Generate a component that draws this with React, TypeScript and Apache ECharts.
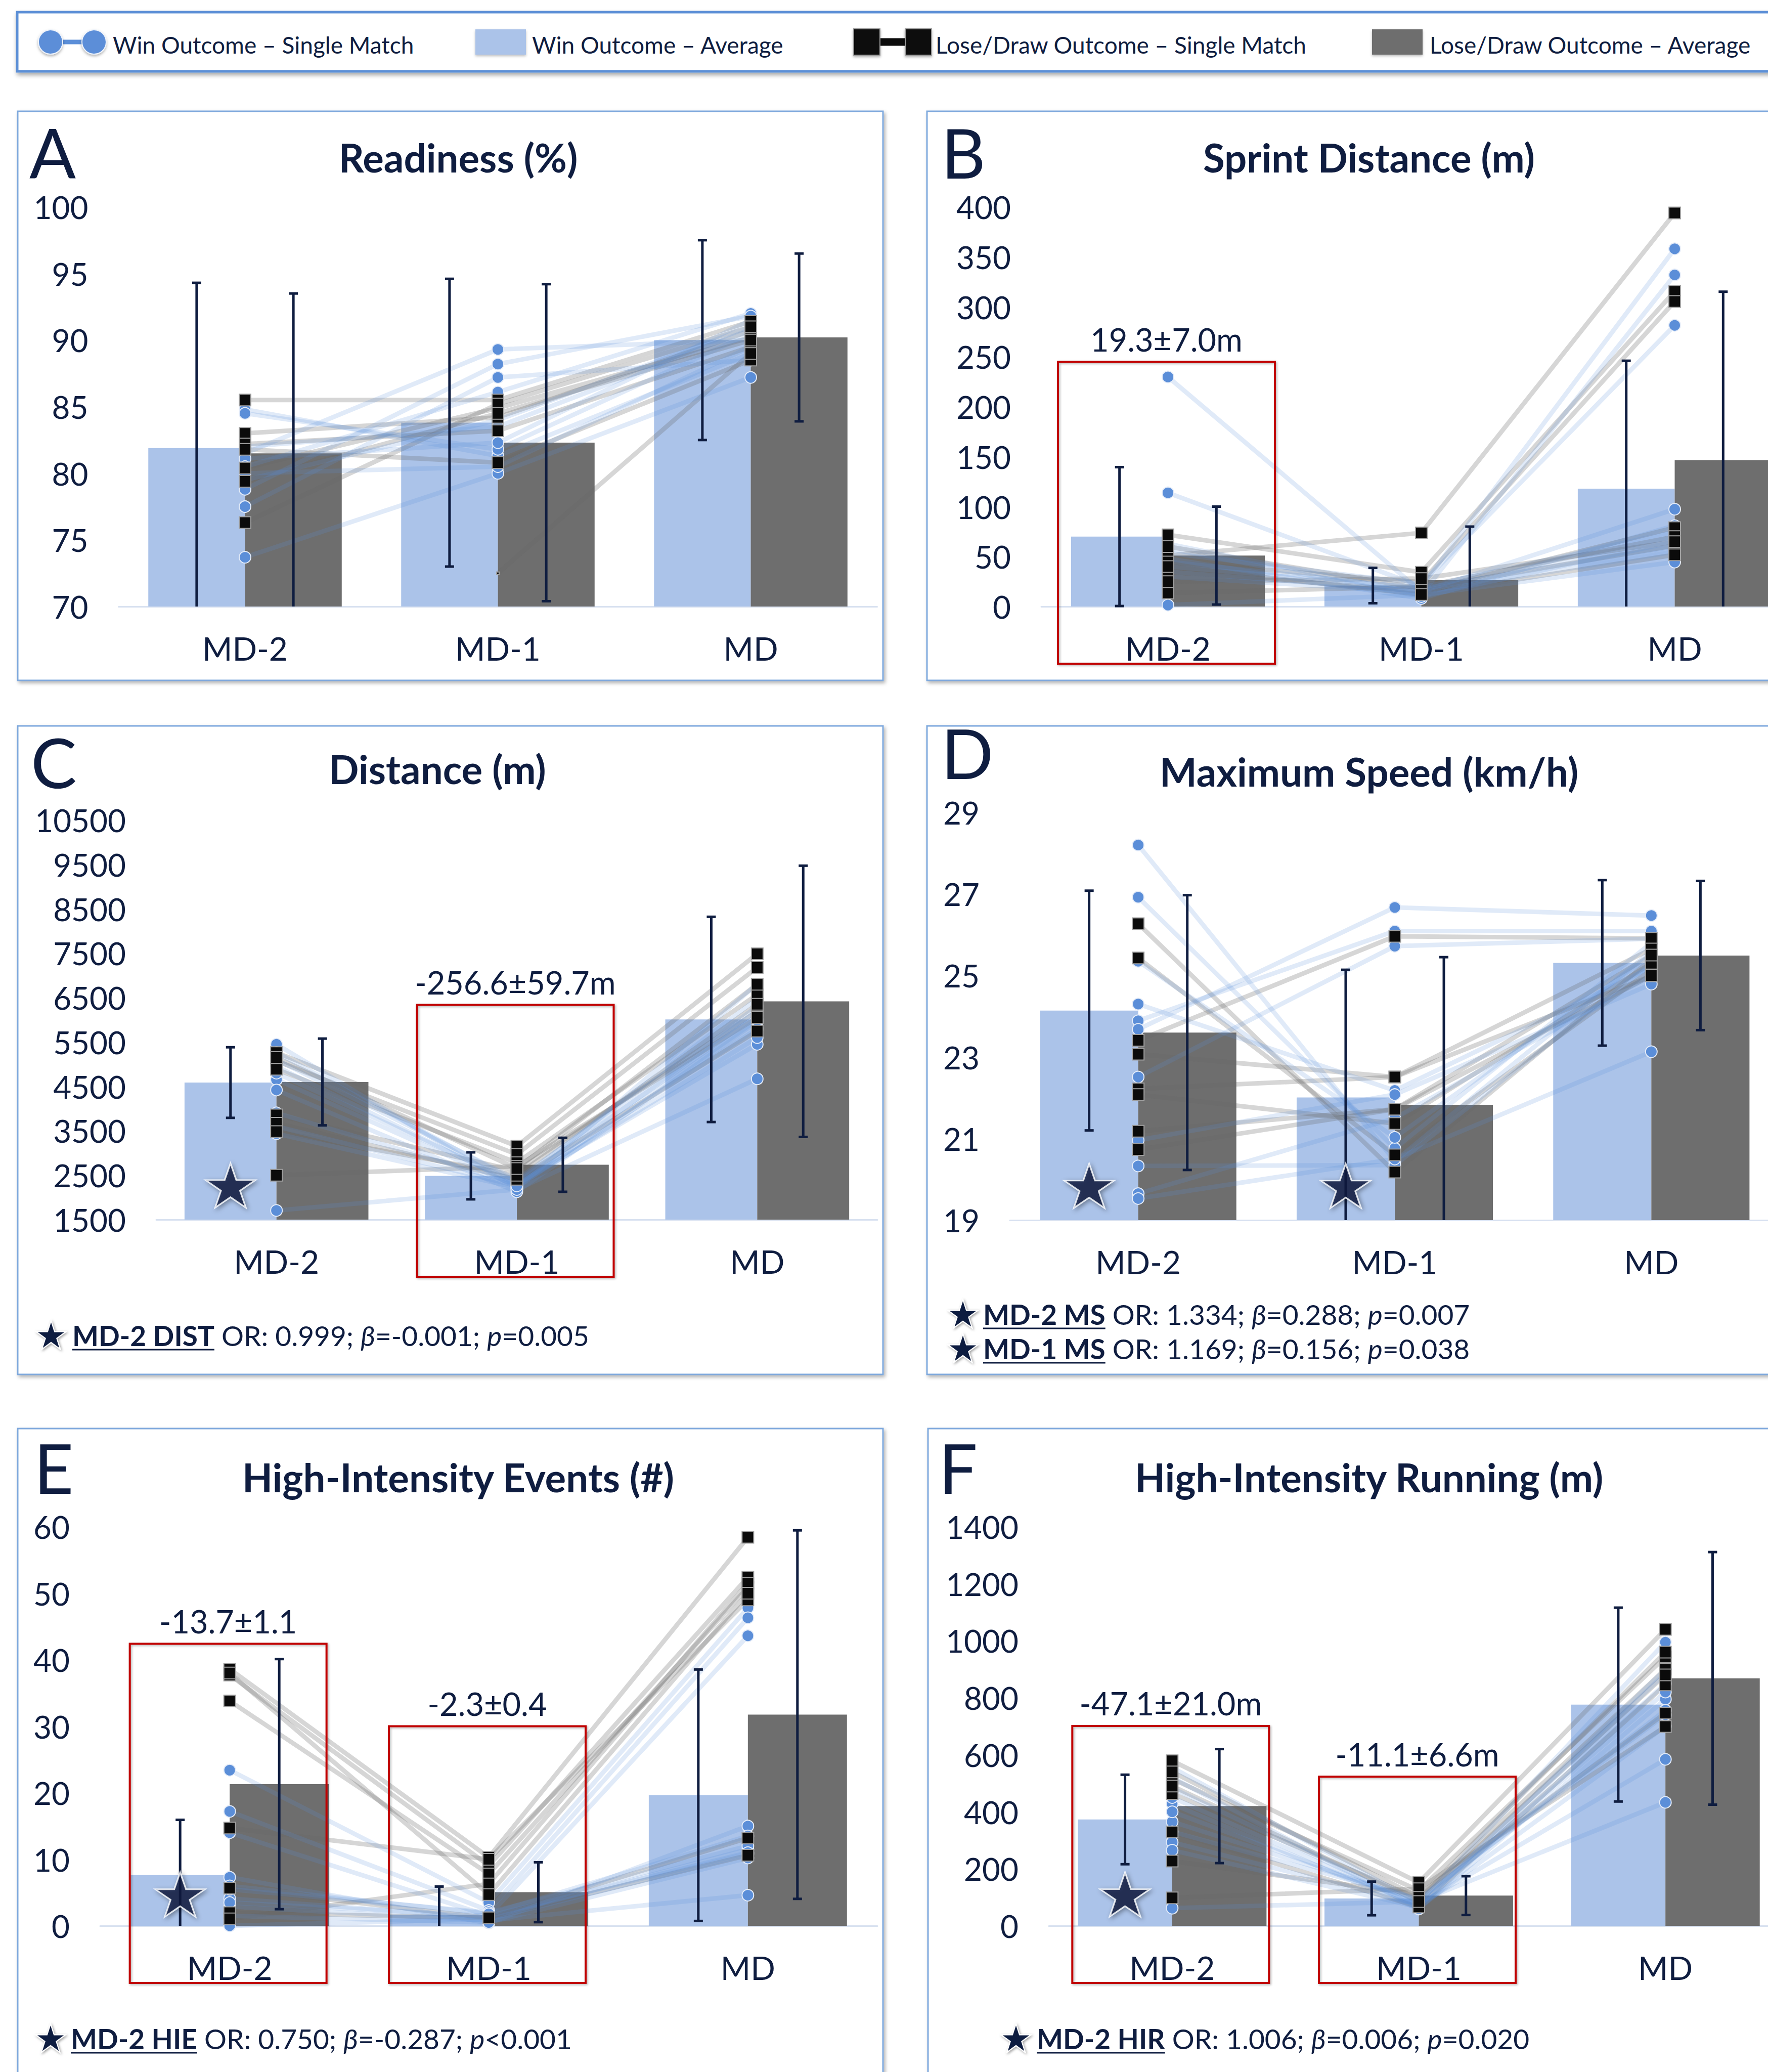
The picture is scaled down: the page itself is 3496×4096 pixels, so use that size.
import React, { useEffect, useRef } from 'react';
import * as echarts from 'echarts';

const W = 3496;
const H = 4096;
const NAVY = '#0f1d40';
const FONT = 'Lato, "Open Sans", sans-serif';
const WIN_BAR = '#abc3e9';
const LOSE_BAR = '#6e6e6e';
const WIN_PT = '#5b8ed8';
const LOSE_PT = '#0b0b0b';
const WIN_LINE = 'rgba(91,142,216,0.19)';
const LOSE_LINE = 'rgba(105,105,105,0.27)';
const RED = '#c00000';
const GAP = 0.235;

// ---------------- DATA ----------------
const categories = ['MD-2', 'MD-1', 'MD'];
const legendLabels = [
  'Win Outcome – Single Match',
  'Win Outcome – Average',
  'Lose/Draw Outcome – Single Match',
  'Lose/Draw Outcome – Average',
];

// A. Readiness (%)
const readinessTicks = [70, 75, 80, 85, 90, 95, 100];
const readinessWinAvg = [81.9, 83.8, 90.0];
const readinessWinSD = [12.4, 10.8, 7.5];
const readinessLoseAvg = [81.5, 82.3, 90.2];
const readinessLoseSD = [12.0, 11.9, 6.3];
const readinessWin = [
  [84.8, 81.3, 89.0],
  [84.5, 81.8, 90.5],
  [81.5, 89.3, 90.0],
  [81.1, 82.3, 91.5],
  [80.5, 86.1, 92.0],
  [79.5, 84.0, 91.0],
  [78.8, 88.2, 91.8],
  [77.5, 87.2, 88.5],
  [73.7, 80.0, 87.2],
  [82.0, 83.5, 90.8],
  [80.0, 80.5, 89.5],
];
const readinessLose = [
  [85.5, 85.5, 91.4],
  [83.0, 84.2, 90.7],
  [82.2, 83.2, 89.5],
  [81.8, 80.8, 88.5],
  [80.4, 84.9, 90.2],
  [null, 72.5, 89.0],
  [76.3, 85.2, 91.0],
  [79.4, 84.5, 90.0],
];
const readinessUnmarked = [[5, 1]];

// B. Sprint Distance (m)
const sprintTicks = [0, 50, 100, 150, 200, 250, 300, 350, 400];
const sprintWinAvg = [70, 21, 118];
const sprintWinSD = [69.5, 17.7, 128];
const sprintLoseAvg = [51, 26.3, 146.6];
const sprintLoseSD = [49, 53.7, 168.5];
const sprintWin = [
  [229.8, 15, 97.4],
  [113.8, 20, 358],
  [62.7, 12, 331.9],
  [53.6, 22.6, 281.5],
  [48, 8, 81],
  [1.5, 11.7, 44.5],
  [40, 19, 75],
  [35, 15, 70],
  [58, 10, 65],
  [45, 18, 60],
  [30, 14, 55],
];
const sprintLose = [
  [51, 73.7, 393.9],
  [71.8, 34.3, 315.5],
  [44.5, 24.4, 305.3],
  [35.4, 15.3, 79],
  [13.5, 20, 70],
  [60, 18, 61],
  [40, 12, 51.8],
  [25, 28, 65],
];
const sprintBoxes = [{ cat: 0, top: 245, label: '19.3±7.0m' }];

// C. Distance (m)
const distanceTicks = [1500, 2500, 3500, 4500, 5500, 6500, 7500, 8500, 9500, 10500];
const distanceWinAvg = [4587, 2486, 6009];
const distanceWinSD = [795, 529, 2311];
const distanceLoseAvg = [4600, 2735, 6417];
const distanceLoseSD = [977, 608, 3054];
const distanceWin = [
  [5448, 2200, 6804],
  [5260, 2350, 6476],
  [4653, 2250, 6200],
  [4419, 2127, 5962],
  [3904, 2300, 5448],
  [3436, 2220, 6000],
  [1706, 2180, 4671],
  [5100, 2400, 6300],
  [4950, 2280, 5800],
  [4800, 2330, 6100],
  [3600, 2260, 5600],
];
const distanceLose = [
  [5261, 3156, 7487],
  [5074, 2969, 7179],
  [4887, 2782, 6570],
  [3857, 2595, 6196],
  [3670, 2408, 5747],
  [3483, 2500, 6350],
  [2501, 2700, 6050],
  [5150, 2650, 6800],
];
const distanceBoxes = [{ cat: 1, top: 6337, label: '-256.6±59.7m' }];
const distanceStars = [{ cat: 0, y: 2270 }];
const distanceNotes = [{ term: 'MD-2 DIST', stats: ' OR: 0.999; β=-0.001; ', pv: '=0.005' }];

// D. Maximum Speed (km/h)
const speedTicks = [19, 21, 23, 25, 27, 29];
const speedWinAvg = [24.14, 22.01, 25.31];
const speedWinSD = [2.94, 3.13, 2.03];
const speedLoseAvg = [23.6, 21.83, 25.49];
const speedLoseSD = [3.37, 3.62, 1.83];
const speedWin = [
  [28.2, 20.45, 25.6],
  [26.92, 20.76, 25.8],
  [25.35, 21.03, 25.5],
  [24.3, 22.18, 25.2],
  [23.89, 26.09, 26.09],
  [23.68, 26.67, 26.47],
  [22.51, 25.72, 25.9],
  [20.96, 22.08, 24.79],
  [20.33, 20.35, 25.3],
  [19.65, 21.5, 25.0],
  [19.53, 20.5, 23.13],
];
const speedLose = [
  [26.27, 20.18, 25.4],
  [25.43, 20.6, 25.14],
  [23.41, 25.96, 25.91],
  [23.07, 22.51, 25.65],
  [22.22, 22.51, 24.99],
  [22.08, 21.37, 25.3],
  [21.18, 21.72, 25.5],
  [20.73, 21.72, 25.0],
];
const speedStars = [{ cat: 0, y: 19.84 }, { cat: 1, y: 19.84 }];
const speedNotes = [
  { term: 'MD-2 MS', stats: ' OR: 1.334; β=0.288; ', pv: '=0.007' },
  { term: 'MD-1 MS', stats: ' OR: 1.169; β=0.156; ', pv: '=0.038' },
];

// E. High-Intensity Events (#)
const hieTicks = [0, 10, 20, 30, 40, 50, 60];
const hieWinAvg = [7.63, 1.6, 19.63];
const hieWinSD = [8.3, 4.3, 18.9];
const hieLoseAvg = [21.3, 5.05, 31.75];
const hieLoseSD = [18.8, 4.5, 27.7];
const hieWin = [
  [23.4, 3.5, 47.8],
  [17.2, 2.3, 46.3],
  [14.0, 1.5, 43.6],
  [7.3, 0.4, 15.0],
  [4.1, 1.2, 11.5],
  [2.9, 0.8, 4.6],
  [0, 1.0, 10.8],
  [5.5, 2.0, 12.0],
  [3.5, 1.5, 11.0],
  [1.5, 0.5, 10.2],
  [6.0, 1.8, 13.5],
];
const hieLose = [
  [38.6, 10.3, 58.4],
  [37.7, 9.05, 52.4],
  [33.8, 7.8, 50.9],
  [14.7, 10.0, 49.0],
  [5.66, 1.2, 13.2],
  [1.97, 1.2, 10.6],
  [1.05, 6.3, 51.5],
  [38.0, 4.7, 50.0],
];
const hieBoxes = [
  { cat: 0, top: 42.4, label: '-13.7±1.1' },
  { cat: 1, top: 30.0, label: '-2.3±0.4' },
];
const hieStars = [{ cat: 0, y: 4.7 }];
const hieNotes = [{ term: 'MD-2 HIE', stats: ' OR: 0.750; β=-0.287; ', pv: '<0.001' }];

// F. High-Intensity Running (m)
const hirTicks = [0, 200, 400, 600, 800, 1000, 1200, 1400];
const hirWinAvg = [373, 96, 776];
const hirWinSD = [157, 59, 340];
const hirLoseAvg = [420, 106, 868];
const hirLoseSD = [200, 68, 443];
const hirWin = [
  [555, 80, 995],
  [483, 70, 886],
  [428, 59, 795],
  [365, 90, 756],
  [293, 75, 584],
  [265, 65, 700],
  [62, 85, 433],
  [520, 60, 850],
  [400, 78, 820],
  [330, 95, 740],
  [450, 68, 900],
];
const hirLose = [
  [579, 152, 1040],
  [515, 124, 943],
  [464, 95, 900],
  [329, 66, 845],
  [227, 110, 746],
  [98, 130, 699],
  [540, 100, 960],
  [490, 85, 880],
];
const hirBoxes = [
  { cat: 0, top: 701, label: '-47.1±21.0m' },
  { cat: 1, top: 523, label: '-11.1±6.6m' },
];
const hirStars = [{ cat: 0, y: 110 }];
const hirNotes = [{ term: 'MD-2 HIR', stats: ' OR: 1.006; β=0.006; ', pv: '=0.020' }];

// ---------------- LAYOUT ----------------
const PANELS = [
  {
    letter: 'A', title: 'Readiness (%)', ticks: readinessTicks,
    winAvg: readinessWinAvg, winSD: readinessWinSD, loseAvg: readinessLoseAvg, loseSD: readinessLoseSD,
    win: readinessWin, lose: readinessLose, unmarked: readinessUnmarked, boxes: [], stars: [], notes: [],
    grid: { left: 234.5, top: 409, width: 1500, height: 790 },
    frame: [35, 220, 1711, 1125], letterXY: [58, 300], titleXY: [906, 311], boxW: 389, noteXY: null,
  },
  {
    letter: 'B', title: 'Sprint Distance (m)', ticks: sprintTicks,
    winAvg: sprintWinAvg, winSD: sprintWinSD, loseAvg: sprintLoseAvg, loseSD: sprintLoseSD,
    win: sprintWin, lose: sprintLose, unmarked: [], boxes: sprintBoxes, stars: [], notes: [],
    grid: { left: 2059, top: 409, width: 1503, height: 790 },
    frame: [1833, 220, 1720, 1125], letterXY: [1861, 300], titleXY: [2707, 311], boxW: 429, noteXY: null,
  },
  {
    letter: 'C', title: 'Distance (m)', ticks: distanceTicks,
    winAvg: distanceWinAvg, winSD: distanceWinSD, loseAvg: distanceLoseAvg, loseSD: distanceLoseSD,
    win: distanceWin, lose: distanceLose, unmarked: [], boxes: distanceBoxes, stars: distanceStars, notes: distanceNotes,
    grid: { left: 309, top: 1621, width: 1426, height: 790 },
    frame: [35, 1435, 1711, 1282], letterXY: [61, 1505], titleXY: [865, 1520], boxW: 389,
    noteXY: { star: 101, text: 143, ys: [2640] },
  },
  {
    letter: 'D', title: 'Maximum Speed (km/h)', ticks: speedTicks,
    winAvg: speedWinAvg, winSD: speedWinSD, loseAvg: speedLoseAvg, loseSD: speedLoseSD,
    win: speedWin, lose: speedLose, unmarked: [], boxes: [], stars: speedStars, notes: speedNotes,
    grid: { left: 1997, top: 1606, width: 1522, height: 806 },
    frame: [1833, 1435, 1720, 1282], letterXY: [1861, 1487], titleXY: [2707, 1525], boxW: 389,
    noteXY: { star: 1904, text: 1944, ys: [2598, 2666] },
  },
  {
    letter: 'E', title: 'High-Intensity Events (#)', ticks: hieTicks,
    winAvg: hieWinAvg, winSD: hieWinSD, loseAvg: hieLoseAvg, loseSD: hieLoseSD,
    win: hieWin, lose: hieLose, unmarked: [], boxes: hieBoxes, stars: hieStars, notes: hieNotes,
    grid: { left: 198, top: 3018, width: 1537, height: 789 },
    frame: [35, 2824, 1711, 1400], letterXY: [67, 2900], titleXY: [906, 2920], boxW: 389,
    noteXY: { star: 100, text: 140, ys: [4030] },
  },
  {
    letter: 'F', title: 'High-Intensity Running (m)', ticks: hirTicks,
    winAvg: hirWinAvg, winSD: hirWinSD, loseAvg: hirLoseAvg, loseSD: hirLoseSD,
    win: hirWin, lose: hirLose, unmarked: [], boxes: hirBoxes, stars: hirStars, notes: hirNotes,
    grid: { left: 2074, top: 3018, width: 1463, height: 789 },
    frame: [1835, 2824, 1720, 1400], letterXY: [1856, 2900], titleXY: [2707, 2920], boxW: 389,
    noteXY: { star: 2009, text: 2050, ys: [4030] },
  },
];

const STAR_PATH =
  'path://M50,0L61.2,34.5L97.6,34.5L68.2,55.9L79.4,90.5L50,69.1L20.6,90.5L31.8,55.9L2.4,34.5L38.8,34.5Z';

function starPts(cx: number, cy: number, R: number) {
  const pts: number[][] = [];
  for (let k = 0; k < 10; k++) {
    const r = k % 2 === 0 ? R : R * 0.382;
    const a = -Math.PI / 2 + (k * Math.PI) / 5;
    pts.push([cx + r * Math.cos(a), cy + r * Math.sin(a)]);
  }
  return pts;
}

let measureCtx: any = null;
function measure(text: string, font: string) {
  if (!measureCtx) measureCtx = document.createElement('canvas').getContext('2d');
  measureCtx.font = font;
  return measureCtx.measureText(text).width;
}

function txt(x: number, y: number, text: string, extra: any = {}) {
  return {
    type: 'text',
    x,
    y,
    z: 20,
    style: {
      text,
      fill: NAVY,
      fontFamily: FONT,
      fontSize: 46,
      textAlign: 'left',
      textVerticalAlign: 'middle',
      verticalAlign: 'middle',
      ...extra,
    },
  };
}

function makeErr(side: number) {
  return (params: any, api: any) => {
    const k = api.value(0);
    const m = api.value(1);
    const sd = api.value(2);
    const c = api.coord([k, m]);
    const band = api.size([1, 0])[0];
    const x = c[0] + (side * band * (1 - GAP)) / 4;
    const loRaw = m - sd;
    const yHi = api.coord([k, m + sd])[1];
    const yLo = api.coord([k, Math.max(0, loRaw)])[1];
    const st = { stroke: NAVY, lineWidth: 5 };
    const ch: any[] = [
      { type: 'line', shape: { x1: x, y1: yHi, x2: x, y2: yLo }, style: st },
      { type: 'line', shape: { x1: x - 9, y1: yHi, x2: x + 9, y2: yHi }, style: st },
    ];
    if (loRaw > 0) ch.push({ type: 'line', shape: { x1: x - 9, y1: yLo, x2: x + 9, y2: yLo }, style: st });
    return { type: 'group', children: ch };
  };
}

function buildOption() {
  const grid: any[] = [];
  const xAxis: any[] = [];
  const yAxis: any[] = [];
  const series: any[] = [];
  const graphic: any[] = [];

  // ---- legend ----
  const LY = 83;
  graphic.push({
    type: 'rect', z: 0,
    shape: { x: 34, y: 24, width: 3540, height: 117 },
    style: { fill: '#fff', stroke: '#5b8fd6', lineWidth: 5, shadowBlur: 8, shadowOffsetX: 2, shadowOffsetY: 5, shadowColor: 'rgba(0,0,0,0.35)' },
  });
  graphic.push({ type: 'line', z: 20, shape: { x1: 100, y1: LY, x2: 186, y2: LY }, style: { stroke: WIN_PT, lineWidth: 9 } });
  [100, 186].forEach((cx) =>
    graphic.push({
      type: 'circle', z: 21, shape: { cx, cy: LY, r: 24 },
      style: { fill: WIN_PT, stroke: '#eef3fb', lineWidth: 2, shadowBlur: 5, shadowOffsetY: 3, shadowColor: 'rgba(0,0,0,0.3)' },
    })
  );
  graphic.push(txt(223, 88, legendLabels[0]));
  graphic.push({
    type: 'rect', z: 20, shape: { x: 940, y: 58, width: 100, height: 50 },
    style: { fill: WIN_BAR, shadowBlur: 5, shadowOffsetY: 3, shadowColor: 'rgba(0,0,0,0.25)' },
  });
  graphic.push(txt(1052, 88, legendLabels[1]));
  graphic.push({ type: 'line', z: 20, shape: { x1: 1714, y1: LY, x2: 1816, y2: LY }, style: { stroke: LOSE_PT, lineWidth: 15 } });
  [1688, 1790].forEach((x) =>
    graphic.push({
      type: 'rect', z: 21, shape: { x, y: 57, width: 52, height: 52 },
      style: { fill: LOSE_PT, stroke: '#9a9a9a', lineWidth: 2, shadowBlur: 5, shadowOffsetY: 3, shadowColor: 'rgba(0,0,0,0.3)' },
    })
  );
  graphic.push(txt(1850, 88, legendLabels[2]));
  graphic.push({
    type: 'rect', z: 20, shape: { x: 2713, y: 58, width: 100, height: 50 },
    style: { fill: LOSE_BAR, shadowBlur: 5, shadowOffsetY: 3, shadowColor: 'rgba(0,0,0,0.25)' },
  });
  graphic.push(txt(2827, 88, legendLabels[3]));

  PANELS.forEach((p, i) => {
    const base = p.ticks[0];
    const top = p.ticks[p.ticks.length - 1];
    const step = p.ticks[1] - p.ticks[0];
    const tv = (v: any) => (v == null ? null : v - base);
    const band = p.grid.width / 3;
    const barW = (band * (1 - GAP)) / 2;

    grid.push({
      left: p.grid.left, top: p.grid.top, width: p.grid.width, height: p.grid.height,
      containLabel: false, outerBoundsMode: 'none',
    });
    xAxis.push({
      type: 'category', gridIndex: i, data: categories, boundaryGap: true,
      axisLine: { show: true, lineStyle: { color: '#d8e1f0', width: 3 } },
      axisTick: { show: false },
      axisLabel: { fontSize: 64, color: NAVY, fontFamily: FONT, margin: 50 },
      splitLine: { show: false },
    });
    yAxis.push({
      type: 'value', gridIndex: i, min: 0, max: top - base, interval: step,
      axisLine: { show: false }, axisTick: { show: false }, splitLine: { show: false },
      axisLabel: {
        fontSize: 62, color: NAVY, fontFamily: FONT, margin: 60,
        formatter: (v: number) => String(Math.round(v + base)),
      },
    });

    const common = { xAxisIndex: i, yAxisIndex: i, silent: true, animation: false };
    series.push({
      ...common, type: 'bar', data: p.winAvg.map(tv), barGap: '0%', barCategoryGap: GAP * 100 + '%',
      itemStyle: { color: WIN_BAR }, z: 1,
    });
    series.push({
      ...common, type: 'bar', data: p.loseAvg.map(tv), barGap: '0%', barCategoryGap: GAP * 100 + '%',
      itemStyle: { color: LOSE_BAR }, z: 1,
    });
    p.lose.forEach((m: any[]) =>
      series.push({
        ...common, type: 'line', data: m.map(tv), symbol: 'none', connectNulls: false,
        lineStyle: { color: LOSE_LINE, width: 9 }, z: 2,
      })
    );
    p.win.forEach((m: any[]) =>
      series.push({
        ...common, type: 'line', data: m.map(tv), symbol: 'none', connectNulls: false,
        lineStyle: { color: WIN_LINE, width: 9 }, z: 2,
      })
    );
    series.push({
      ...common, type: 'custom', renderItem: makeErr(-1), z: 3,
      data: p.winAvg.map((m: number, k: number) => [k, tv(m), p.winSD[k]]),
    });
    series.push({
      ...common, type: 'custom', renderItem: makeErr(1), z: 3,
      data: p.loseAvg.map((m: number, k: number) => [k, tv(m), p.loseSD[k]]),
    });
    const winPts: any[] = [];
    p.win.forEach((m: any[]) => m.forEach((v, k) => { if (v != null) winPts.push([k, tv(v)]); }));
    const losePts: any[] = [];
    p.lose.forEach((m: any[], mi: number) =>
      m.forEach((v, k) => {
        if (v == null) return;
        const hidden = p.unmarked.some((u: number[]) => u[0] === mi && u[1] === k);
        losePts.push(hidden ? { value: [k, tv(v)], symbolSize: 5 } : [k, tv(v)]);
      })
    );
    series.push({
      ...common, type: 'scatter', data: winPts, symbol: 'circle', symbolSize: 23, z: 4,
      itemStyle: { color: WIN_PT, borderColor: '#e3ebf8', borderWidth: 2, opacity: 1 },
    });
    series.push({
      ...common, type: 'scatter', data: losePts, symbol: 'rect', symbolSize: 23, z: 5,
      itemStyle: { color: LOSE_PT, borderColor: '#a0a0a0', borderWidth: 2, opacity: 1 },
    });
    if (p.stars.length) {
      series.push({
        ...common, type: 'scatter', z: 6,
        data: p.stars.map((s: any) => [s.cat, tv(s.y)]),
        symbol: STAR_PATH, symbolSize: [98, 92], symbolKeepAspect: true, symbolOffset: [-barW / 2, 0],
        itemStyle: {
          color: NAVY, borderColor: '#ffffff', borderWidth: 3,
          shadowBlur: 10, shadowOffsetX: 3, shadowOffsetY: 3, shadowColor: 'rgba(0,0,0,0.45)',
        },
      });
    }

    // frame
    const [fx, fy, fw, fh] = p.frame;
    graphic.push({
      type: 'rect', z: 0, shape: { x: fx, y: fy, width: fw, height: fh },
      style: { fill: '#fff', stroke: '#7fa9dd', lineWidth: 3, shadowBlur: 7, shadowOffsetX: 3, shadowOffsetY: 4, shadowColor: 'rgba(0,0,0,0.3)' },
    });
    graphic.push(txt(p.letterXY[0], p.letterXY[1], p.letter, { fontSize: 136, lineHeight: 100 }));
    graphic.push(txt(p.titleXY[0], p.titleXY[1], p.title, { fontSize: 78, fontWeight: 'bold', textAlign: 'center' }));

    // red boxes
    const axisY = p.grid.top + p.grid.height;
    p.boxes.forEach((b: any) => {
      const cx = p.grid.left + (b.cat + 0.5) * band;
      const yTop = p.grid.top + p.grid.height * (1 - (b.top - base) / (top - base));
      const yBot = axisY + 113;
      graphic.push({
        type: 'rect', z: 15,
        shape: { x: cx - p.boxW / 2 - 3, y: yTop, width: p.boxW, height: yBot - yTop },
        style: { fill: 'none', stroke: RED, lineWidth: 4, shadowBlur: 4, shadowOffsetX: 2, shadowOffsetY: 2, shadowColor: 'rgba(0,0,0,0.3)' },
      });
      graphic.push(txt(cx - 3, yTop - 45, b.label, { fontSize: 63, textAlign: 'center' }));
    });

    // footnotes
    if (p.noteXY) {
      p.notes.forEach((n: any, ni: number) => {
        const y = p.noteXY.ys[ni];
        graphic.push({
          type: 'polygon', z: 20,
          shape: { points: starPts(p.noteXY.star, y + 2, 31) },
          style: { fill: NAVY, stroke: '#fff', lineWidth: 2, shadowBlur: 5, shadowOffsetX: 2, shadowOffsetY: 2, shadowColor: 'rgba(0,0,0,0.4)' },
        });
        const bw = measure(n.term, `bold 55px Lato`);
        graphic.push(txt(p.noteXY.text, y, n.term, { fontSize: 55, fontWeight: 'bold' }));
        graphic.push({
          type: 'line', z: 20,
          shape: { x1: p.noteXY.text, y1: y + 28, x2: p.noteXY.text + bw, y2: y + 28 },
          style: { stroke: NAVY, lineWidth: 3 },
        });
        const stats = n.stats.split('β').join('}{i|β}{r|');
        graphic.push({
          type: 'text', z: 20, x: p.noteXY.text + bw, y,
          style: {
            text: `{r|${stats}}{i|p}{r|${n.pv}}`,
            textAlign: 'left', textVerticalAlign: 'middle', verticalAlign: 'middle',
            fill: NAVY, fontFamily: FONT, fontSize: 55,
            rich: {
              r: { fontSize: 55, fontFamily: FONT, fill: NAVY, color: NAVY },
              i: { fontSize: 55, fontFamily: FONT, fontStyle: 'italic', fill: NAVY, color: NAVY },
            },
          },
        });
      });
    }
  });

  return {
    animation: false,
    backgroundColor: '#ffffff',
    textStyle: { fontFamily: FONT },
    grid,
    xAxis,
    yAxis,
    series,
    graphic: { elements: graphic },
  };
}

export default function App() {
  const ref = useRef<HTMLDivElement>(null);
  useEffect(() => {
    document.body.style.margin = '0';
    const chart = echarts.init(ref.current as HTMLDivElement, null, { renderer: 'svg', width: W, height: H });
    chart.setOption(buildOption() as any);
    return () => chart.dispose();
  }, []);
  return (
    <div
      ref={ref}
      style={{ position: 'absolute', left: 0, top: 0, width: W, height: H, background: '#fff', overflow: 'hidden' }}
    />
  );
}
